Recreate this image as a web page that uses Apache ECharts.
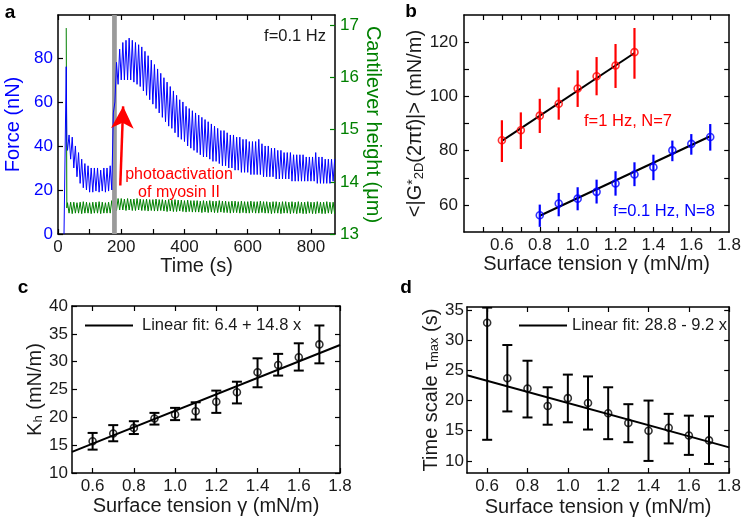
<!DOCTYPE html>
<html><head><meta charset="utf-8">
<script src="https://cdn.jsdelivr.net/npm/echarts@6/dist/echarts.min.js"></script>
<style>html,body{margin:0;padding:0;background:#fff}#c{width:744px;height:522px}</style>
</head><body><div id="c"></div>
<script>
// ================= DATA =================
// ---- Panel a: force & cantilever height vs time (f = 0.1 Hz oscillation) ----
const aFirstCycle = 30;      // s, first cycle start
const aPeriod = 10;          // s, oscillation period (0.1 Hz)
const forceLeadT = [19, 26, 28];
const forceLeadV = [0, 76, 42];
const forceTrough = [38,34,30,26,23,21,20,19,19,19.5,19,19.5,19,19.5,20,60,68,70,70,70,70,69,68,67,65,63,61,59,57,55,53,51,49,48,46,44,43,42,40,39,38,37,36,35,35,34,33,33,32,31,31,30,30,29,29,28,28,28,27,27,27,27,26,26,26,26,25,25,25,25,25,24,24,24,24,24,24,24,24,23,23,23,23,23,24];
const forcePeak   = [45,44,40,37,34,32,31,30,30,30,29,30,30,31,55,78,84,87,88,89,88,87,86,85,83,81,79,77,75,73,71,69,67,65,63,61,60,58,57,56,55,54,53,52,51,50,49,48,47,47,46,45,45,44,44,43,43,42,42,42,43,41,40,40,39,39,38,38,37,37,37,36,36,36,36,35,35,35,37,35,35,34,34,34,34];
const heightLeadT = [26, 28];
const heightLeadV = [16.95, 13.5];
const heightPeak   = [13.60,13.61,13.61,13.60,13.61,13.62,13.61,13.60,13.61,13.61,13.62,13.61,13.60,13.61,13.64,13.67,13.68,13.68,13.67,13.68,13.67,13.67,13.68,13.67,13.66,13.67,13.66,13.66,13.67,13.66,13.66,13.65,13.66,13.65,13.66,13.65,13.65,13.64,13.65,13.64,13.64,13.64,13.63,13.64,13.63,13.64,13.63,13.63,13.64,13.63,13.63,13.62,13.63,13.63,13.62,13.63,13.62,13.62,13.63,13.62,13.62,13.63,13.62,13.62,13.61,13.62,13.62,13.61,13.62,13.62,13.61,13.62,13.61,13.62,13.61,13.61,13.62,13.61,13.61,13.62,13.61,13.61,13.62,13.61,13.61];
const heightTrough = [13.40,13.39,13.40,13.40,13.39,13.40,13.40,13.39,13.40,13.40,13.39,13.40,13.40,13.40,13.42,13.45,13.46,13.46,13.45,13.46,13.45,13.45,13.46,13.45,13.45,13.44,13.45,13.44,13.44,13.45,13.44,13.43,13.44,13.43,13.43,13.44,13.43,13.42,13.43,13.42,13.42,13.42,13.41,13.42,13.41,13.42,13.41,13.41,13.42,13.41,13.41,13.40,13.41,13.41,13.40,13.41,13.40,13.40,13.41,13.40,13.40,13.41,13.40,13.40,13.39,13.40,13.40,13.39,13.40,13.40,13.39,13.40,13.39,13.40,13.39,13.39,13.40,13.39,13.39,13.40,13.39,13.39,13.40,13.39,13.39];
const activationBand = [171, 186];     // s
const arrowFrom = [197, 22];           // [s, nN]
const arrowTo = [206, 58];

// ---- Panel b: |G*2D| vs surface tension ----
const bRedX  = [0.6, 0.7, 0.8, 0.9, 1.0, 1.1, 1.2, 1.3];
const bRedY  = [83.8, 87.5, 92.9, 97.3, 102.9, 107.4, 111.4, 116.3];
const bRedLo = [75.8, 80.6, 86.5, 91.4, 96.1, 100.4, 103.1, 106.5];
const bRedHi = [91.2, 94.1, 99.1, 103.3, 109.6, 114.5, 119.3, 125.2];
const bRedFitX = [0.6, 1.3];
const bRedFitY = [83.6, 116.0];
const bBlueX  = [0.8, 0.9, 1.0, 1.1, 1.2, 1.3, 1.4, 1.5, 1.6, 1.7];
const bBlueY  = [56.2, 60.5, 62.3, 64.8, 67.9, 71.2, 73.9, 80.1, 82.5, 85.0];
const bBlueLo = [51.9, 55.8, 58.0, 60.5, 63.4, 66.9, 69.1, 76.1, 78.5, 80.0];
const bBlueHi = [60.1, 64.4, 66.5, 69.3, 72.4, 75.7, 78.5, 83.7, 86.1, 89.8];
const bBlueFitX = [0.8, 1.7];
const bBlueFitY = [56.0, 85.3];

// ---- Panel c: K_h vs surface tension ----
const cX  = [0.6, 0.7, 0.8, 0.9, 1.0, 1.1, 1.2, 1.3, 1.4, 1.5, 1.6, 1.7];
const cY  = [15.7, 17.1, 18.1, 19.8, 20.5, 21.1, 22.8, 24.5, 28.1, 29.4, 30.8, 33.1];
const cLo = [14.2, 15.7, 17.0, 18.7, 19.5, 19.6, 20.8, 22.5, 25.4, 27.5, 28.4, 29.7];
const cHi = [17.2, 18.6, 19.3, 20.8, 21.7, 22.7, 24.8, 26.4, 30.6, 31.4, 33.3, 36.5];
const cFitX = [0.5, 1.8];
const cFitY = [13.8, 33.0];
const cFitName = 'Linear fit: 6.4 + 14.8 x';

// ---- Panel d: tau_max vs surface tension ----
const dX  = [0.6, 0.7, 0.8, 0.9, 1.0, 1.1, 1.2, 1.3, 1.4, 1.5, 1.6, 1.7];
const dY  = [32.9, 23.7, 22.0, 19.1, 20.4, 19.6, 17.9, 16.3, 15.0, 15.5, 14.2, 13.4];
const dLo = [13.5, 18.2, 17.2, 16.0, 16.4, 15.2, 13.6, 13.1, 10.0, 12.9, 11.0, 9.5];
const dHi = [35.4, 29.2, 26.6, 22.2, 24.3, 24.0, 22.2, 19.4, 20.0, 17.8, 17.5, 17.4];
const dFitX = [0.5, 1.8];
const dFitY = [24.2, 12.24];
const dFitName = 'Linear fit: 28.8 - 9.2 x';

// tick / label values
const aXTicks = [0,100,200,300,400,500,600,700,800];
const aXLabels = [0,200,400,600,800];
const aYTicks = [0,20,40,60,80];
const aY2Ticks = [13,14,15,16,17];
const bXTicks = [0.5,0.6,0.7,0.8,0.9,1.0,1.1,1.2,1.3,1.4,1.5,1.6,1.7];
const bXLabels = [0.6,0.8,1.0,1.2,1.4,1.6,1.8];
const bYTicks = [60,70,80,90,100,110,120];
const bYLabels = [60,80,100,120];
const cdXTicks = [0.6,0.8,1.0,1.2,1.4,1.6,1.8];
const cYTicks = [10,15,20,25,30,35,40];
const dYTicks = [10,15,20,25,30,35];

// ================= BUILD =================
const FONT = '"Liberation Sans", Arial, Helvetica, sans-serif';
const TXT = '#1a1a1a';
const BLUE = '#0000ff', GREEN = '#008000', RED = '#ff0000';

function zipTime(leadT, leadV, lowArr, highArr, lowFirst) {
  const out = leadT.map((t, i) => [t, leadV[i]]);
  for (let i = 0; i < lowArr.length; i++) {
    const t = aFirstCycle + i * aPeriod;
    if (lowFirst) { out.push([t, lowArr[i]]); out.push([t + aPeriod / 2, highArr[i]]); }
    else { out.push([t, highArr[i]]); out.push([t + aPeriod / 2, lowArr[i]]); }
  }
  return out;
}
const forceData = zipTime(forceLeadT, forceLeadV, forceTrough, forcePeak, true);
const heightData = zipTime(heightLeadT, heightLeadV, heightTrough, heightPeak, false);

function xAxis(grid, min, max, ticks, labels, pos, opts) {
  opts = opts || {};
  return {
    type: 'value', gridIndex: grid, min: min, max: max, position: pos,
    splitLine: { show: false },
    axisLine: { show: true, onZero: false, lineStyle: { color: '#000', width: 1.5 } },
    axisTick: { show: true, inside: true, length: 5, customValues: ticks, lineStyle: { color: '#000', width: 1.2 } },
    axisLabel: { show: pos === 'bottom', customValues: labels, fontSize: 17, fontFamily: FONT, color: TXT, margin: 5,
      formatter: opts.fmt || (v => String(v)) },
    name: pos === 'bottom' ? opts.name : '', nameLocation: 'middle', nameGap: opts.nameGap || 20,
    nameTextStyle: { fontSize: 20, fontFamily: FONT, color: TXT }
  };
}
function yAxis(grid, min, max, ticks, labels, pos, opts) {
  opts = opts || {};
  const showLab = opts.showLabel !== undefined ? opts.showLabel : pos === 'left';
  return {
    type: 'value', gridIndex: grid, min: min, max: max, position: pos,
    splitLine: { show: false },
    axisLine: { show: true, onZero: false, lineStyle: { color: '#000', width: 1.5 } },
    axisTick: { show: true, inside: true, length: 5, customValues: ticks, lineStyle: { color: opts.tickColor || '#000', width: 1.2 } },
    axisLabel: { show: showLab, customValues: labels, fontSize: 17, fontFamily: FONT, color: opts.labelColor || TXT, margin: opts.margin || 5 },
    name: showLab ? opts.name : '', nameLocation: 'middle', nameGap: opts.nameGap || 30,
    nameRotate: opts.nameRotate,
    nameTextStyle: Object.assign({ fontSize: 20, fontFamily: FONT, color: opts.nameColor || TXT },
      { rich: { sub: { fontSize: 13, fontFamily: FONT, color: opts.nameColor || TXT, verticalAlign: 'bottom', lineHeight: 12 },
                sup: { fontSize: 14, fontFamily: FONT, color: opts.nameColor || TXT, verticalAlign: 'top', lineHeight: 12 } } })
  };
}
const f1 = v => v.toFixed(1);

const grids = [
  { left: 58, top: 15, width: 277, height: 219 },
  { left: 464, top: 15, width: 266, height: 217 },
  { left: 72, top: 306, width: 268, height: 167 },
  { left: 467, top: 307, width: 263, height: 166 }
];

const xAxes = [
  xAxis(0, 0, 876, aXTicks, aXLabels, 'bottom', { name: 'Time (s)', nameGap: 18 }),
  xAxis(0, 0, 876, aXTicks, aXLabels, 'top'),
  xAxis(1, 0.4, 1.8, bXTicks, bXLabels, 'bottom', { name: 'Surface tension γ (mN/m)', nameGap: 20, fmt: f1 }),
  xAxis(1, 0.4, 1.8, bXTicks, bXLabels, 'top'),
  xAxis(2, 0.5, 1.8, cdXTicks, cdXTicks, 'bottom', { name: 'Surface tension γ (mN/m)', nameGap: 23, fmt: f1 }),
  xAxis(2, 0.5, 1.8, cdXTicks, cdXTicks, 'top'),
  xAxis(3, 0.5, 1.8, cdXTicks, cdXTicks, 'bottom', { name: 'Surface tension γ (mN/m)', nameGap: 24, fmt: f1 }),
  xAxis(3, 0.5, 1.8, cdXTicks, cdXTicks, 'top')
];
const yAxes = [
  yAxis(0, 0, 99.5, aYTicks, aYTicks, 'left', { name: 'Force (nN)', nameGap: 35, labelColor: BLUE, nameColor: BLUE }),
  yAxis(0, 13, 17.2, aY2Ticks, aY2Ticks, 'right', { showLabel: true, name: 'Cantilever height (μm)', nameGap: 22, nameRotate: -90,
        labelColor: GREEN, nameColor: GREEN, tickColor: GREEN }),
  yAxis(1, 50, 130, bYTicks, bYLabels, 'left', { name: '<|G{sup|*}{sub|2D}(2πf)|> (mN/m)', nameGap: 32, margin: 6 }),
  yAxis(1, 50, 130, bYTicks, bYLabels, 'right'),
  yAxis(2, 10, 40, cYTicks, cYTicks, 'left', { name: 'K{sub|h} (mN/m)', nameGap: 27, margin: 4 }),
  yAxis(2, 10, 40, cYTicks, cYTicks, 'right'),
  yAxis(3, 8, 35.5, dYTicks, dYTicks, 'left', { name: 'Time scale τ{sub|max} (s)', nameGap: 22, margin: 3 }),
  yAxis(3, 8, 35.5, dYTicks, dYTicks, 'right')
];

function errSeries(xi, yi, xs, los, his, color, cap, width) {
  return {
    type: 'custom', xAxisIndex: xi, yAxisIndex: yi, z: 3, silent: true, clip: true,
    data: xs.map((x, i) => [x, los[i], his[i]]),
    encode: { x: 0, y: [1, 2] },
    renderItem: function (params, api) {
      const x = api.value(0);
      const p1 = api.coord([x, api.value(2)]), p2 = api.coord([x, api.value(1)]);
      const st = { stroke: color, lineWidth: width };
      const ch = [{ type: 'line', shape: { x1: p1[0], y1: p1[1], x2: p2[0], y2: p2[1] }, style: st }];
      if (cap > 0) {
        ch.push({ type: 'line', shape: { x1: p1[0] - cap, y1: p1[1], x2: p1[0] + cap, y2: p1[1] }, style: st });
        ch.push({ type: 'line', shape: { x1: p2[0] - cap, y1: p2[1], x2: p2[0] + cap, y2: p2[1] }, style: st });
      }
      return { type: 'group', children: ch };
    }
  };
}
function ptSeries(xi, yi, xs, ys, color) {
  return {
    type: 'scatter', xAxisIndex: xi, yAxisIndex: yi, z: 4, silent: true,
    data: xs.map((x, i) => [x, ys[i]]), symbol: 'circle', symbolSize: 7,
    itemStyle: { color: 'rgba(255,255,255,0)', borderColor: color, borderWidth: 1.6 }
  };
}
function fitSeries(xi, yi, xs, ys, name) {
  return {
    type: 'line', name: name, xAxisIndex: xi, yAxisIndex: yi, z: 2, silent: true,
    data: xs.map((x, i) => [x, ys[i]]), symbol: 'none', showSymbol: false,
    lineStyle: { color: '#000', width: 2 }, itemStyle: { color: '#000' }
  };
}

const series = [
  { type: 'line', name: 'height', xAxisIndex: 0, yAxisIndex: 1, z: 2, silent: true, data: heightData,
    symbol: 'none', showSymbol: false, lineStyle: { color: GREEN, width: 1 } },
  { type: 'custom', xAxisIndex: 0, yAxisIndex: 0, z: 3, silent: true, data: [activationBand],
    encode: { x: [0, 1] },
    renderItem: function (params, api) {
      const cs = params.coordSys;
      const a = api.coord([api.value(0), 0]), b = api.coord([api.value(1), 0]);
      return { type: 'rect', shape: { x: a[0], y: cs.y, width: b[0] - a[0], height: cs.height }, style: { fill: '#9a9a9a' } };
    } },
  { type: 'line', name: 'force', xAxisIndex: 0, yAxisIndex: 0, z: 4, silent: true, data: forceData,
    symbol: 'none', showSymbol: false, lineStyle: { color: BLUE, width: 1 },
    markLine: { silent: true, animation: false, symbol: ['none', 'arrow'], symbolSize: [17, 22],
      label: { show: false }, lineStyle: { color: RED, width: 2.5, type: 'solid' },
      emphasis: { disabled: true },
      data: [[{ coord: arrowFrom }, { coord: arrowTo }]] } },

  fitSeries(2, 2, bRedFitX, bRedFitY, 'fitRed'),
  fitSeries(2, 2, bBlueFitX, bBlueFitY, 'fitBlue'),
  errSeries(2, 2, bRedX, bRedLo, bRedHi, RED, 0, 2.2),
  errSeries(2, 2, bBlueX, bBlueLo, bBlueHi, BLUE, 0, 2.2),
  ptSeries(2, 2, bRedX, bRedY, RED),
  ptSeries(2, 2, bBlueX, bBlueY, BLUE),

  fitSeries(4, 4, cFitX, cFitY, cFitName),
  errSeries(4, 4, cX, cLo, cHi, '#000', 5, 2),
  ptSeries(4, 4, cX, cY, '#000'),

  fitSeries(6, 6, dFitX, dFitY, dFitName),
  errSeries(6, 6, dX, dLo, dHi, '#000', 5, 2),
  ptSeries(6, 6, dX, dY, '#000')
];

function txt(x, y, s, size, color, bold) {
  return { type: 'text', x: x, y: y, silent: true,
    style: { text: s, fontSize: size, fontFamily: FONT, fill: color, fontWeight: bold ? 'bold' : 'normal', align: 'center', verticalAlign: 'middle' } };
}

const legendBase = { icon: 'rect', itemWidth: 48, itemHeight: 2, selectedMode: false,
  itemStyle: { color: '#000', borderWidth: 0 } };
const option = {
  animation: false,
  backgroundColor: '#fff',
  grid: grids,
  xAxis: xAxes,
  yAxis: yAxes,
  series: series,
  legend: [
    Object.assign({ data: [cFitName], left: 80, top: 312,
      textStyle: { fontSize: 16.5, fontFamily: FONT, color: TXT, padding: [0, 0, 0, 4] } }, legendBase),
    Object.assign({ data: [dFitName], left: 514, top: 312,
      textStyle: { fontSize: 16.5, fontFamily: FONT, color: TXT } }, legendBase)
  ],
  graphic: [
    txt(10, 13, 'a', 19, '#000', true),
    txt(411, 12, 'b', 19, '#000', true),
    txt(23, 288, 'c', 19, '#000', true),
    txt(406, 288, 'd', 19, '#000', true),
    txt(295, 36, 'f=0.1 Hz', 16.5, TXT),
    txt(179, 175, 'photoactivation', 16, RED),
    txt(179, 193, 'of myosin II', 16, RED),
    txt(628, 121, 'f=1 Hz, N=7', 16.5, RED),
    txt(664, 211, 'f=0.1 Hz, N=8', 16.5, BLUE)
  ]
};
const chart = echarts.init(document.getElementById('c'), null, { renderer: 'canvas' });
chart.setOption(option);
</script>
</body></html>
